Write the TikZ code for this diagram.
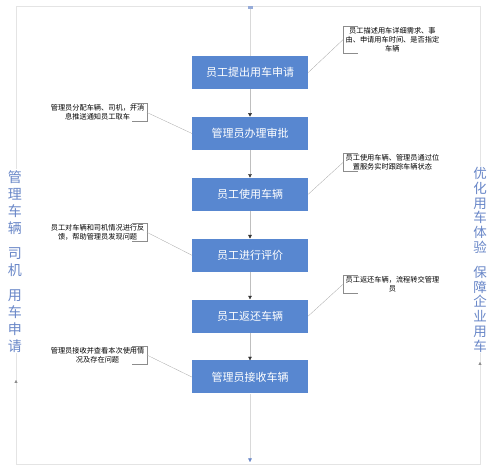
\documentclass[tikz,border=0pt]{standalone}
\usepackage{fontspec}
\setmainfont{Noto Sans CJK SC}
\usetikzlibrary{arrows.meta,positioning}
\definecolor{boxblue}{RGB}{88,135,208}
\definecolor{sideblue}{RGB}{105,135,200}
\definecolor{framegray}{RGB}{228,228,228}

\begin{document}
\begin{tikzpicture}[x=1pt, y=1pt,
  stepbox/.style={fill=boxblue, text=white, minimum width=116pt, minimum height=33pt, font=\fontsize{11}{13}\selectfont},
  note/.style={text width=96pt, align=center, inner sep=1pt, font=\fontsize{7.2}{9}\selectfont},
  bracket/.style={draw=black!45, line width=0.4pt},
  link/.style={draw=black!35, line width=0.3pt},
  flow/.style={draw=black!25, -{Triangle[length=3.5pt, width=3.5pt, black!80]}},
  endflow/.style={draw=black!15, -{Triangle[length=3.5pt, width=3.5pt, sideblue]}},
  sideflow/.style={draw=framegray, -{Triangle[length=3pt, width=3pt, black!45]}},
  side/.style={align=center, fill=white, text=sideblue, inner sep=1pt}
]

\useasboundingbox (0,0) rectangle (499,472);

% frame
\draw[framegray] (16,8) rectangle (480,466);

% steps
\node[stepbox] (apply) at (250,399.5) {员工提出用车申请};
\node[stepbox, below=27.5pt of apply] (approve) {管理员办理审批};
\node[stepbox, below=27.5pt of approve] (use) {员工使用车辆};
\node[stepbox, below=27.5pt of use] (rate) {员工进行评价};
\node[stepbox, below=27.5pt of rate] (return) {员工返还车辆};
\node[stepbox, below=27.5pt of return] (receive) {管理员接收车辆};

% notes on the right
\node[note, right=35pt of apply, yshift=33pt] (applynote) {员工描述用车详细需求、事\\由、申请用车时间、是否指定\\车辆};
\node[note, right=35pt of use, yshift=32pt] (usenote) {员工使用车辆、管理员通过位\\置服务实时跟踪车辆状态};
\node[note, right=35pt of return, yshift=32pt] (returnnote) {员工返还车辆，流程转交管理\\员};

% notes on the left
\node[note, left=45pt of approve, yshift=21pt] (approvenote) {管理员分配车辆、司机，并消\\息推送通知员工取车};
\node[note, left=45pt of rate, yshift=23pt] (ratenote) {员工对车辆和司机情况进行反\\馈，帮助管理员发现问题};
\node[note, left=45pt of receive, yshift=22pt] (receivenote) {管理员接收并查看本次使用情\\况及存在问题};

\foreach \n in {applynote,usenote,returnnote}
  \draw[bracket] ([xshift=15pt]\n.north west) -- (\n.north west) -- (\n.south west) -- ++(15pt,0);
\foreach \n in {approvenote,ratenote,receivenote}
  \draw[bracket] ([xshift=-15pt]\n.north east) -- (\n.north east) -- (\n.south east) -- ++(-15pt,0);

\draw[link] (apply.east) -- (applynote.west);
\draw[link] (use.east) -- (usenote.west);
\draw[link] (return.east) -- (returnnote.west);
\draw[link] (approve.west) -- (approvenote.east);
\draw[link] (rate.west) -- (ratenote.east);
\draw[link] (receive.west) -- (receivenote.east);

% flow
\coordinate (start) at (250,466);
\coordinate (finish) at (250,10);
\draw[endflow, {Square[length=2.5pt, width=4pt, sideblue!70]}-] (start) -- (apply);
\draw[flow] (apply) -- (approve);
\draw[flow] (approve) -- (use);
\draw[flow] (use) -- (rate);
\draw[flow] (rate) -- (return);
\draw[flow] (return) -- (receive);
\draw[endflow] (receive) -- (finish);

% side goals
\coordinate (leftfoot) at (16,8);
\coordinate (lefttip) at (16,92);
\coordinate (rightfoot) at (480,8);
\coordinate (righttip) at (480,110);
\draw[sideflow] (leftfoot) -- (lefttip);
\draw[sideflow] (rightfoot) -- (righttip);

\node[side, anchor=north, font=\fontsize{14}{17}\selectfont] (leftgoal) at (15,303) {管\\理\\车\\辆\\[8pt]司\\机\\[8pt]用\\车\\申\\请};
\node[side, anchor=north, font=\fontsize{13.5}{14.8}\selectfont] (rightgoal) at (480,306) {优\\化\\用\\车\\体\\验\\[10pt]保\\障\\企\\业\\用\\车};

\end{tikzpicture}
\end{document}
